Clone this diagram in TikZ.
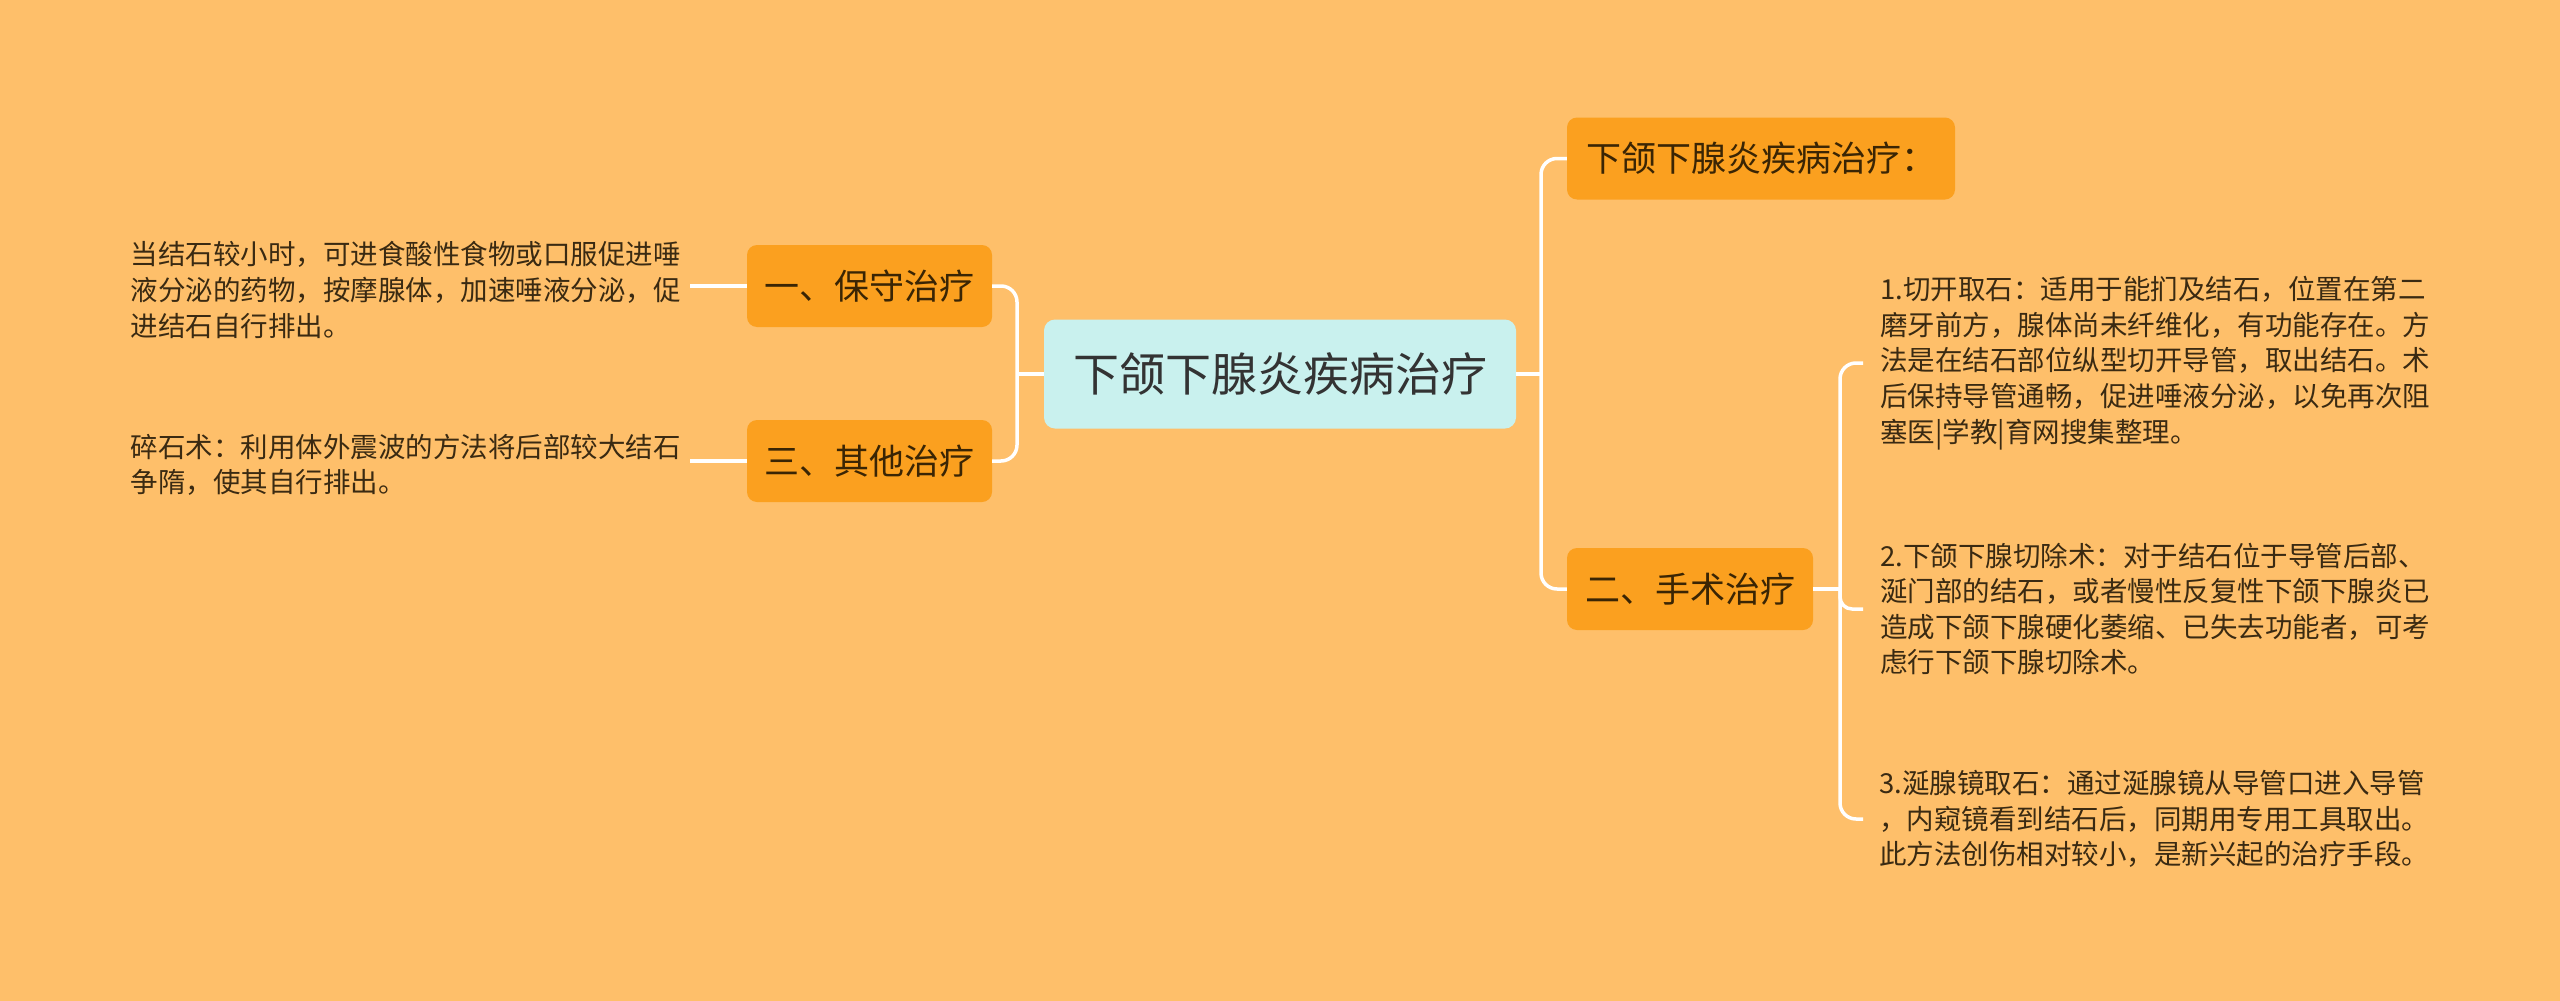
\documentclass[tikz,border=0pt]{standalone}
\usepackage{fontspec}
\setmainfont{Noto Sans CJK SC}
\definecolor{bg}{HTML}{FEBF6A}
\definecolor{boxorange}{HTML}{FBA01F}
\definecolor{centerfill}{HTML}{C9F1EE}
\definecolor{centertext}{HTML}{333333}
\definecolor{branchtext}{HTML}{3A2504}
\definecolor{detailtext}{HTML}{3A2A12}
\begin{document}
\begin{tikzpicture}[x=1pt,y=-1pt,
  conn/.style={draw=white,line width=3.5pt},
  rootbox/.style={fill=centerfill, rounded corners=11pt, minimum width=472pt, minimum height=109pt, inner sep=0pt, text=centertext, font=\fontsize{46}{55}\selectfont},
  topic/.style={fill=boxorange, rounded corners=10pt, minimum height=82pt, inner sep=0pt, text=branchtext, font=\fontsize{35}{42}\selectfont},
  detail/.style={align=left, text=detailtext, font=\fontsize{27.5}{35.6}\selectfont, inner ysep=0pt}]
\fill[bg] (0,0) rectangle (2560,1001);
\useasboundingbox (0,0) rectangle (2560,1001);

\node[rootbox] (C) at (1280,374) {下颌下腺炎疾病治疗};
\node[topic, minimum width=245pt] (L1) at (869.5,286) {一、保守治疗};
\node[topic, minimum width=245pt] (L3) at (869.5,461) {三、其他治疗};
\node[topic, minimum width=388pt] (R1) at (1761,158.5) {下颌下腺炎疾病治疗：};
\node[topic, minimum width=246pt] (R2) at (1690,589) {二、手术治疗};

\node[detail, anchor=east, inner xsep=9pt] (T1) at (690,290) {当结石较小时，可进食酸性食物或口服促进唾\\液分泌的药物，按摩腺体，加速唾液分泌，促\\进结石自行排出。};
\node[detail, anchor=east, inner xsep=9pt] (T3) at (690,465) {碎石术：利用体外震波的方法将后部较大结石\\争隋，使其自行排出。};
\node[detail, anchor=west, inner xsep=17pt] (D1) at (1863,363) {1.切开取石：适用于能扪及结石，位置在第二\\磨牙前方，腺体尚未纤维化，有功能存在。方\\法是在结石部位纵型切开导管，取出结石。术\\后保持导管通畅，促进唾液分泌，以免再次阻\\塞医|学教|育网搜集整理。};
\node[detail, anchor=west, inner xsep=17pt] (D2) at (1863,609) {2.下颌下腺切除术：对于结石位于导管后部、\\涎门部的结石，或者慢性反复性下颌下腺炎已\\造成下颌下腺硬化萎缩、已失去功能者，可考\\虑行下颌下腺切除术。};
\node[detail, anchor=west, inner xsep=16pt] (D3) at (1863,819) {3.涎腺镜取石：通过涎腺镜从导管口进入导管\\，内窥镜看到结石后，同期用专用工具取出。\\此方法创伤相对较小，是新兴起的治疗手段。};

\coordinate (jl) at (1017,374);
\coordinate (jr) at (1541,374);
\coordinate (js) at (1840,589);

\draw[conn] (C.west) -- (jl);
\draw[conn, rounded corners=16pt] (L1.east) -| (jl) |- (L3.east);
\draw[conn] (T1.east |- L1.west) -- (L1.west);
\draw[conn] (T3.east |- L3.west) -- (L3.west);
\draw[conn] (C.east) -- (jr);
\draw[conn, rounded corners=16pt] (R1.west) -| (jr) |- (R2.west);
\draw[conn] (R2.east) -- (js);
\draw[conn, rounded corners=16pt] (D1.west) -| (js) |- (D3.west);
\draw[conn, rounded corners=12pt] (js) |- (D2.west);
\end{tikzpicture}
\end{document}
